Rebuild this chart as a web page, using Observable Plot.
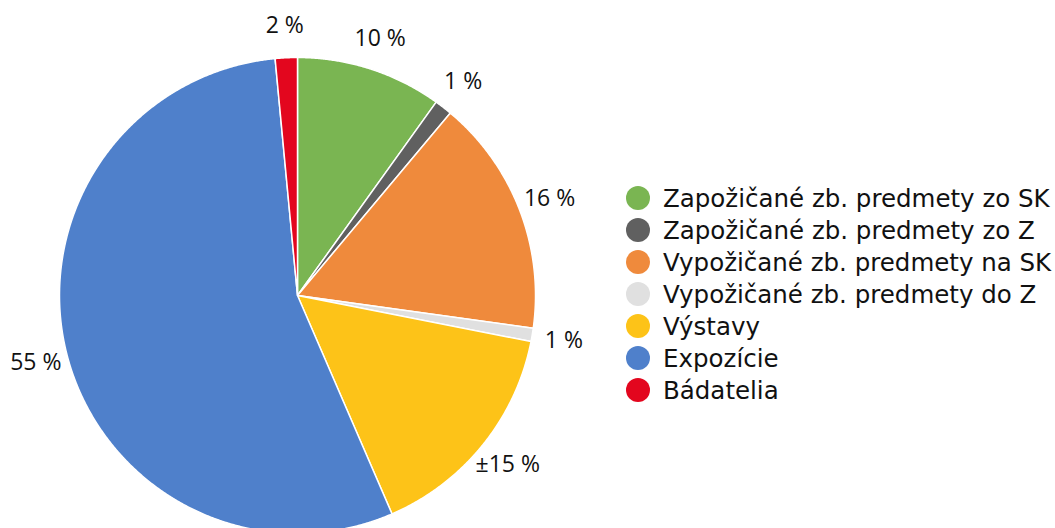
<!DOCTYPE html>
<html>
<head>
<meta charset="utf-8">
<script src="https://cdn.jsdelivr.net/npm/d3@7"></script>
<script src="https://cdn.jsdelivr.net/npm/@observablehq/plot@0.6"></script>
<style>
  html, body { margin: 0; padding: 0; background: #fff; }
  #wrap { position: relative; width: 1055px; height: 528px; overflow: hidden; }
  #legend { position: absolute; left: 626px; top: 182px; font-family: "DejaVu Sans", sans-serif; font-size: 24.5px; color: #111; }
  #legend .row { display: flex; align-items: center; height: 32px; }
  #legend .sw { width: 24px; height: 24px; border-radius: 50%; margin-right: 13px; flex: none; }
  #legend span { white-space: nowrap; }
</style>
</head>
<body>
<div id="wrap"></div>
<script>
const categories = [
  "Zapožičané zb. predmety zo SK",
  "Zapožičané zb. predmety zo Z",
  "Vypožičané zb. predmety na SK",
  "Vypožičané zb. predmety do Z",
  "Výstavy",
  "Expozície",
  "Bádatelia"
];
const values = [9.9, 1.2, 16.1, 0.9, 15.4, 55.0, 1.5];
const labels = ["10 %", "1 %", "16 %", "1 %", "±15 %", "55 %", "2 %"];
const colors = ["#7ab552", "#606060", "#ef8a3c", "#e0e0e0", "#fdc318", "#4f80cb", "#e3061e"];

const pie = d3.pie().sort(null).value(d => d.value)(
  categories.map((c, i) => ({category: c, value: values[i], label: labels[i]}))
);

// slice outlines in unit-circle coordinates
const outline = [];
for (const a of pie) {
  const n = Math.max(2, Math.ceil((a.endAngle - a.startAngle) / 0.005));
  outline.push({category: a.data.category, x: 0, y: 0});
  for (let k = 0; k <= n; k++) {
    const t = a.startAngle + (a.endAngle - a.startAngle) * k / n;
    outline.push({category: a.data.category, x: Math.sin(t), y: Math.cos(t)});
  }
  outline.push({category: a.data.category, x: 0, y: 0});
}
const labelPts = pie.map(a => {
  const m = (a.startAngle + a.endAngle) / 2;
  return {label: a.data.label, x: 1.135 * Math.sin(m), y: 1.135 * Math.cos(m)};
});

const chart = Plot.plot({
  width: 1055,
  height: 528,
  margin: 0,
  x: {domain: [-1, 1], range: [59, 535], axis: null},
  y: {domain: [-1, 1], range: [533, 57], axis: null},
  color: {domain: categories, range: colors},
  marks: [
    Plot.line(outline, {x: "x", y: "y", z: "category", fill: "category", stroke: "white", strokeWidth: 1.5, curve: "linear"}),
    Plot.text(labelPts, {x: "x", y: "y", text: "label", fontSize: 23, fill: "#111", fontFamily: "Open Sans, sans-serif"})
  ]
});
const wrap = document.getElementById("wrap");
wrap.appendChild(chart);

const legend = document.createElement("div");
legend.id = "legend";
categories.forEach((c, i) => {
  const row = document.createElement("div");
  row.className = "row";
  const sw = document.createElement("div");
  sw.className = "sw";
  sw.style.background = colors[i];
  const tx = document.createElement("span");
  tx.textContent = c;
  row.appendChild(sw);
  row.appendChild(tx);
  legend.appendChild(row);
});
wrap.appendChild(legend);
</script>
</body>
</html>
